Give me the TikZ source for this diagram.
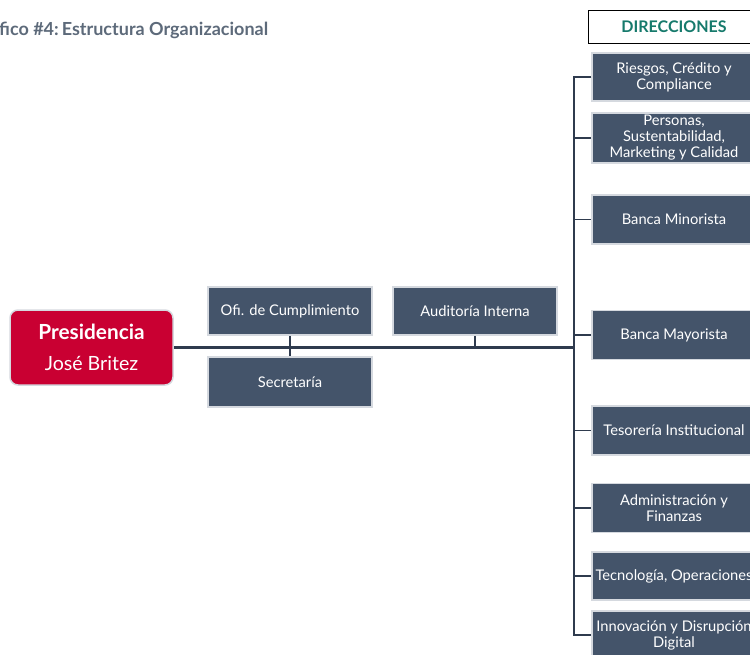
\documentclass[tikz,border=0pt]{standalone}
\usepackage{fontspec}
\setmainfont{Lato}
\definecolor{boxfill}{HTML}{44546A}
\definecolor{boxedge}{HTML}{D5D9DF}
\definecolor{linkcol}{HTML}{2F3B4E}
\definecolor{presred}{HTML}{C90032}
\definecolor{teal}{HTML}{167A6C}
\definecolor{titlegray}{HTML}{5D6A7A}
\tikzset{
  unitbox/.style={draw=boxedge, line width=1.5pt, fill=boxfill, text=white,
    minimum width=164pt, inner sep=0pt, align=center,
    font=\fontsize{14.7}{16}\selectfont},
  link/.style={draw=linkcol, line width=2.6pt},
  stub/.style={draw=linkcol, line width=1.8pt},
}
\begin{document}
\begin{tikzpicture}[x=1pt,y=-1pt]
\useasboundingbox (0,0) rectangle (750,654);

% title
\node[anchor=base west, inner sep=0pt, text=titlegray,
  font=\bfseries\fontsize{18}{20}\selectfont] (title) at (-1,35) {fico \#4:\,Estructura Organizacional};

% header of the right column
\node[draw=black, line width=1pt, fill=white, minimum width=172pt, minimum height=33pt,
  inner sep=0pt, text=teal, font=\bfseries\fontsize{16}{18}\selectfont] (dir) at (674,26.5) {DIRECCIONES};

% presidency
\node[draw=boxedge, line width=1.5pt, fill=presred, rounded corners=8pt, text=white,
  minimum width=163pt, minimum height=75pt, inner sep=0pt, align=center,
  font=\fontsize{19.6}{31}\selectfont] (pres) at (91.5,347.5)
  {{\fontsize{20.8}{31}\selectfont\textbf{Presidencia}}\\José Britez};

% staff units
\node[unitbox, minimum height=48pt] (ofi) at (290,311) {Ofi. de Cumplimiento};
\node[unitbox, minimum height=50pt] (sec) at (290,382) {Secretaría};
\node[unitbox, minimum height=48pt] (aud) at (475,311) {Auditoría Interna};

% directorates
\node[unitbox, minimum height=48pt] (riesgos) at (674,77) {Riesgos, Crédito y\\Compliance};
\node[unitbox, minimum height=50pt] (personas) at (674,138) {Personas,\\Sustentabilidad,\\Marketing y Calidad};
\node[unitbox, minimum height=49pt] (minorista) at (674,219.5) {Banca Minorista};
\node[unitbox, minimum height=49pt] (mayorista) at (674,335) {Banca Mayorista};
\node[unitbox, minimum height=49pt] (tesoreria) at (674,430.5) {Tesorería Institucional};
\node[unitbox, minimum height=49pt] (admin) at (674,508) {Administración y\\Finanzas};
\node[unitbox, minimum height=48pt] (tecno) at (674,576) {Tecnología, Operaciones};
\node[unitbox, minimum height=48pt] (innov) at (674,635) {Innovación y Disrupción\\Digital};

% spine of the directorates
\coordinate (spine) at (574,347.5);
\draw[link] (riesgos.west) -| (spine |- innov.west) -- (innov.west);
\foreach \n in {personas,minorista,mayorista,tesoreria,admin,tecno}
  \draw[stub] (spine |- \n.west) -- (\n.west);

% main line and staff connectors
\draw[link] (pres.east) -- (spine);
\draw[stub] (ofi.south) -- (sec.north);
\draw[stub] (aud.south) -- (aud.south |- pres.east);
\end{tikzpicture}
\end{document}
